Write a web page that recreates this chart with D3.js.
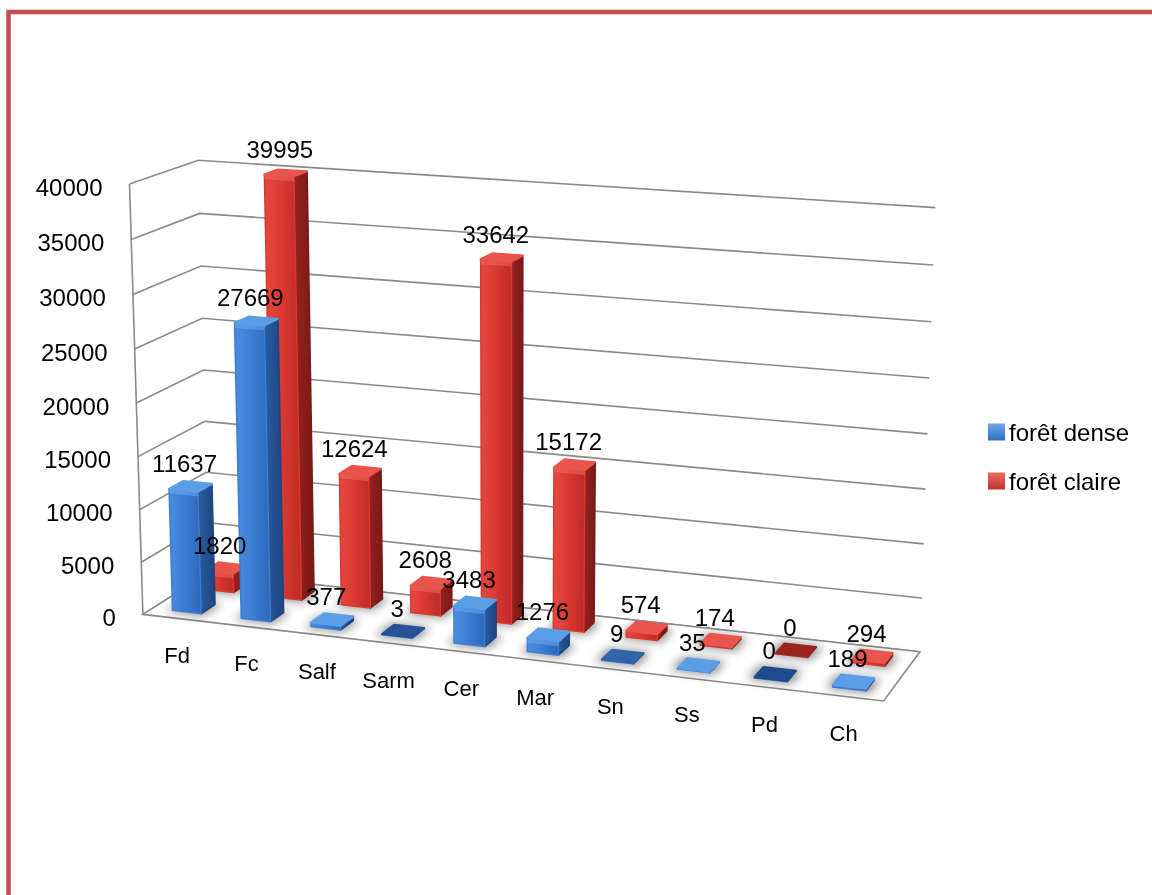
<!DOCTYPE html>
<html>
<head>
<meta charset="utf-8">
<script src="https://cdn.jsdelivr.net/npm/d3@7"></script>
<style>
  body { margin: 0; background: #fff; }
  svg { display: block; }
  text { font-family: "Liberation Sans", Arial, sans-serif; fill: #000; }
</style>
</head>
<body>
<svg id="chart" width="1152" height="895"></svg>
<script>
// ---- data ----
const categories = ["Fd", "Fc", "Salf", "Sarm", "Cer", "Mar", "Sn", "Ss", "Pd", "Ch"];
const seriesNames = ["forêt dense", "forêt claire"];
const denseValues = [11637, 27669, 377, 3, 3483, 1276, 9, 35, 0, 189];
const claireValues = [1820, 39995, 12624, 2608, 33642, 15172, 574, 174, 0, 294];
const yTicks = [0, 5000, 10000, 15000, 20000, 25000, 30000, 35000, 40000];

// ---- 3D box: X = category axis (0..10), Y = value axis (0..4), Z = depth (0..2) ----
const xBand = d3.scaleBand().domain(categories).range([0, 10]);
const zBand = d3.scaleBand().domain(seriesNames).range([0, 2]);
const yScale = d3.scaleLinear().domain([0, 40000]).range([0, 4]);
const barFrac = 0.42;

// perspective camera, solved from where the corners of the plot box sit on the page
const boxAnchors = [
  [[0, 0, 0], [142, 614]],
  [[0, 4, 0], [130, 183.3]],
  [[0, 3, 0], [133.3, 295]],
  [[0, 2, 0], [136.7, 403]],
  [[0, 4, 2], [196.7, 160]],
  [[0, 3, 2], [201.7, 266.7]],
  [[0, 2, 2], [204, 370]],
  [[0, 1.5, 2], [205, 421.7]],
  [[10, 4, 2], [935, 207.3]],
  [[10, 3.5, 2], [933.3, 265]],
  [[10, 3, 2], [931.7, 322.3]],
  [[10, 0.5, 2], [922, 598.3]],
  [[10, 0, 2], [920, 650.7]],
  [[10, 0, 0], [883.3, 701.7]]
];

function fitCamera(anchors) {
  const S = 576, n = 11;
  const M = Array.from({ length: n }, () => new Array(n + 1).fill(0));
  const add = (r, b) => {
    for (let i = 0; i < n; i++) {
      for (let j = 0; j < n; j++) M[i][j] += r[i] * r[j];
      M[i][n] += r[i] * b;
    }
  };
  anchors.forEach(([[X, Y, Z], [u0, v0]]) => {
    const u = (u0 - S) / S, v = (v0 - S) / S;
    add([X, Y, Z, 1, 0, 0, 0, 0, -u * X, -u * Y, -u * Z], u);
    add([0, 0, 0, 0, X, Y, Z, 1, -v * X, -v * Y, -v * Z], v);
  });
  for (let c = 0; c < n; c++) {
    let piv = c;
    for (let r = c + 1; r < n; r++) if (Math.abs(M[r][c]) > Math.abs(M[piv][c])) piv = r;
    [M[c], M[piv]] = [M[piv], M[c]];
    for (let r = 0; r < n; r++) {
      if (r === c) continue;
      const f = M[r][c] / M[c][c];
      for (let j = c; j <= n; j++) M[r][j] -= f * M[c][j];
    }
  }
  const p = M.map((row, i) => row[n] / row[i]);
  return (X, Y, Z) => {
    const w = p[8] * X + p[9] * Y + p[10] * Z + 1;
    return [S + S * (p[0] * X + p[1] * Y + p[2] * Z + p[3]) / w,
            S + S * (p[4] * X + p[5] * Y + p[6] * Z + p[7]) / w];
  };
}
const project = fitCamera(boxAnchors);
const pts = arr => arr.map(a => project(a[0], a[1], a[2]).join(",")).join(" ");

const svg = d3.select("#chart");
const defs = svg.append("defs");

// ---- styles ----
const palette = {
  "forêt dense": {
    front: ["#4a8ee0", "#3b7dd4", "#2d66b7"], side: ["#2a5b9f", "#1e4580"],
    top: "#5b9ee8", bevel: "#6aa8ee", flat: "#1f4b8c", legend: ["#6fa8ea", "#2f6cc0"]
  },
  "forêt claire": {
    front: ["#e4493f", "#d83830", "#be2b27"], side: ["#962220", "#7a1916"],
    top: "#e9554d", bevel: "#ef6a62", flat: "#9a2420", legend: ["#ec6d66", "#c0302b"]
  }
};
seriesNames.forEach((s, k) => {
  const c = palette[s];
  const gF = defs.append("linearGradient").attr("id", "front" + k).attr("x1", 0).attr("x2", 1).attr("y1", 0).attr("y2", 0);
  c.front.forEach((col, i) => gF.append("stop").attr("offset", i / (c.front.length - 1)).attr("stop-color", col));
  const gS = defs.append("linearGradient").attr("id", "side" + k).attr("x1", 0).attr("x2", 1).attr("y1", 0).attr("y2", 0);
  c.side.forEach((col, i) => gS.append("stop").attr("offset", i).attr("stop-color", col));
  const gL = defs.append("linearGradient").attr("id", "legend" + k).attr("x1", 0).attr("x2", 0).attr("y1", 0).attr("y2", 1);
  c.legend.forEach((col, i) => gL.append("stop").attr("offset", i).attr("stop-color", col));
});
defs.append("filter").attr("id", "soft").attr("x", "-50%").attr("y", "-50%").attr("width", "200%").attr("height", "200%")
  .append("feGaussianBlur").attr("stdDeviation", 5);

// ---- page border ----
svg.append("rect").attr("x", 8.5).attr("y", 12).attr("width", 1200).attr("height", 950)
  .attr("fill", "none").attr("stroke", "#c4504d").attr("stroke-width", 4.5);

// ---- walls: gridlines on side wall and back wall ----
const grid = svg.append("g").attr("fill", "none").attr("stroke", "#8a8a8a").attr("stroke-width", 1.6);
yTicks.forEach(t => {
  const y = yScale(t);
  grid.append("polyline").attr("points", pts([[0, y, 0], [0, y, 2], [10, y, 2]]));
});
grid.append("polyline").attr("points", pts([[0, 0, 0], [0, 4, 0]]));

// ---- floor ----
svg.append("polygon").attr("points", pts([[0, 0, 0], [10, 0, 0], [10, 0, 2], [0, 0, 2]]))
  .attr("fill", "#fff").attr("stroke", "#8a8a8a").attr("stroke-width", 1.6);

// ---- bars ----
const rows = seriesNames.map((s, k) => categories.map((c, i) => ({
  series: s, k, cat: c, value: (k === 0 ? denseValues : claireValues)[i]
})));
const drawOrder = [rows[1], rows[0]]; // back row first

function barGeom(d) {
  const xc = xBand(d.cat) + xBand.bandwidth() / 2;
  const zc = zBand(d.series) + zBand.bandwidth() / 2;
  const hw = barFrac / 2;
  return { x0: xc - hw, x1: xc + hw, z0: zc - hw, z1: zc + hw, h: Math.max(yScale(d.value), 0.006), xc, zc };
}

// soft contact shadows on the floor
const shadows = svg.append("g").attr("filter", "url(#soft)");
drawOrder.forEach(row => row.forEach(d => {
  const g = barGeom(d), e = 0.07;
  shadows.append("polygon")
    .attr("points", pts([[g.x0 - e, 0, g.z0 - e], [g.x1 + e, 0, g.z0 - e], [g.x1 + e, 0, g.z1 + e], [g.x0 - e, 0, g.z1 + e]]))
    .attr("fill", "#000").attr("opacity", 0.45);
}));

const bevelH = 0.045;
const bars = svg.append("g").attr("stroke-linejoin", "round");
drawOrder.forEach(row => row.forEach(d => {
  const g = barGeom(d), c = palette[d.series];
  const b = bars.append("g");
  b.append("polygon").attr("points", pts([[g.x1, 0, g.z0], [g.x1, 0, g.z1], [g.x1, g.h, g.z1], [g.x1, g.h, g.z0]]))
    .attr("fill", `url(#side${d.k})`).attr("stroke", c.side[1]).attr("stroke-width", 1.5);
  b.append("polygon").attr("points", pts([[g.x0, 0, g.z0], [g.x1, 0, g.z0], [g.x1, g.h, g.z0], [g.x0, g.h, g.z0]]))
    .attr("fill", `url(#front${d.k})`).attr("stroke", c.front[1]).attr("stroke-width", 1.5);
  if (g.h > 2 * bevelH) {
    // rounded lip along the top of the front face
    b.append("polygon").attr("points", pts([[g.x0, g.h - bevelH, g.z0], [g.x1, g.h - bevelH, g.z0], [g.x1, g.h, g.z0], [g.x0, g.h, g.z0]]))
      .attr("fill", c.bevel).attr("opacity", 0.55);
  }
  const topCol = d3.interpolateRgb(c.flat, c.top)(Math.min(1, d.value / 30));
  b.append("polygon").attr("points", pts([[g.x0, g.h, g.z0], [g.x1, g.h, g.z0], [g.x1, g.h, g.z1], [g.x0, g.h, g.z1]]))
    .attr("fill", topCol).attr("stroke", topCol).attr("stroke-width", 2);
}));

// ---- value axis labels ----
const axisLabels = svg.append("g").attr("font-size", 24).attr("text-anchor", "end");
yTicks.forEach(t => {
  const p = project(0, yScale(t), 0);
  axisLabels.append("text").attr("x", p[0] - 27).attr("y", p[1] + 3)
    .attr("dominant-baseline", "central").text(t);
});

// ---- category labels ----
const catLabels = svg.append("g").attr("font-size", 22).attr("text-anchor", "middle");
categories.forEach(c => {
  const p = project(xBand(c) + xBand.bandwidth() / 2, 0, 0);
  catLabels.append("text").attr("x", p[0]).attr("y", p[1] + 37)
    .attr("dominant-baseline", "central").text(c);
});

// ---- data labels ----
const valLabels = svg.append("g").attr("font-size", 24).attr("text-anchor", "middle");
drawOrder.forEach(row => row.forEach(d => {
  const g = barGeom(d);
  const p = project(g.xc, g.h, g.zc);
  valLabels.append("text").attr("x", p[0] - 6).attr("y", p[1] - 23)
    .attr("dominant-baseline", "central").text(d.value);
}));

// ---- legend ----
const legend = svg.append("g").attr("font-size", 24);
seriesNames.forEach((s, k) => {
  const y = 432 + k * 49;
  legend.append("rect").attr("x", 988).attr("y", y - 8.5).attr("width", 17).attr("height", 17)
    .attr("fill", `url(#legend${k})`);
  legend.append("text").attr("x", 1009).attr("y", y).attr("dominant-baseline", "central").text(s);
});
</script>
</body>
</html>
